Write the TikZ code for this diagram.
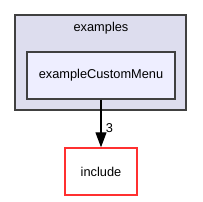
\documentclass[tikz,border=0pt]{standalone}
\usepackage{fontspec}
\setmainfont{Liberation Sans}
\usepackage{xcolor}
\definecolor{clusterfill}{HTML}{DDDDEE}
\definecolor{dirfill}{HTML}{EEEEFF}
\definecolor{framegray}{HTML}{404040}
\definecolor{extred}{HTML}{FF3030}
\usetikzlibrary{
  arrows.meta,
  positioning
}

\begin{document}
\begin{tikzpicture}[x=1pt, y=-1pt, font=\fontsize{12.8}{15}\selectfont]

  \useasboundingbox (0, 0) rectangle (203, 201);

  % the enclosing directory (cluster)
  \node[draw=framegray, fill=clusterfill, line width=1.4pt, minimum width=171pt, minimum height=95pt, inner sep=0pt] (examples) at (100.5, 62.5) {};
  \node[anchor=center] (examplesLabel) at (101, 28) {examples};

  % the sub directory inside the cluster
  \node[draw=framegray, fill=dirfill, line width=1.4pt, minimum width=148pt, minimum height=47pt, inner sep=0pt] (customMenu) at (101, 75.5) {exampleCustomMenu};

  % the directory it depends on
  \node[draw=extred, fill=white, line width=1.4pt, minimum width=72pt, minimum height=47pt, inner sep=0pt] (include) at (101, 171.5) {include};

  % dependency edge
  \draw[-{Stealth[length=15pt, width=11pt, inset=0pt]}, line width=1.2pt] (customMenu) -- (include)
    node[pos=0.6, anchor=west, xshift=1pt] (edgeCount) {3};

\end{tikzpicture}
\end{document}
